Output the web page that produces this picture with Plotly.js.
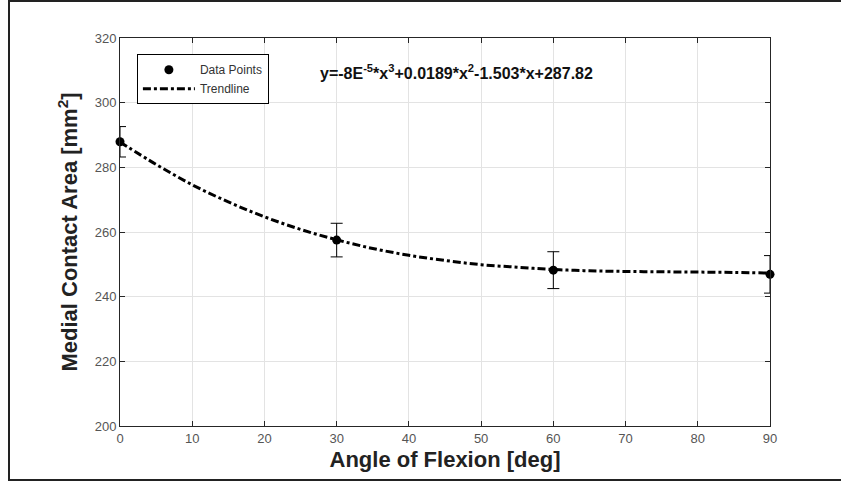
<!DOCTYPE html>
<html>
<head>
<meta charset="utf-8">
<script src="https://cdn.plot.ly/plotly-3.0.1.min.js"></script>
<style>
  html, body { margin: 0; padding: 0; background: #fff; }
  #wrap { position: relative; width: 841px; height: 482px; overflow: hidden; }
  #chart { position: absolute; left: 0; top: 0; width: 841px; height: 482px; }
  #frame { position: absolute; left: 8px; top: 0px; width: 840px; height: 481px;
           border-left: 2px solid #222; border-top: 2px solid #222; border-bottom: 2px solid #222;
           pointer-events: none; box-sizing: border-box; }
</style>
</head>
<body>
<div id="wrap">
  <div id="chart"></div>
  <div id="frame"></div>
</div>
<script>
// Measured data points (angle of flexion, medial contact area) with error bars
const angles = [0, 30, 60, 90];
const areas = [287.9, 257.5, 248.2, 246.9];
const errors = [4.7, 5.2, 5.7, 5.8];

// Trendline values
const trendX = [0, 5, 10, 15, 20, 25, 30, 35, 40, 45, 50, 55, 60, 65, 70, 75, 80, 85, 90];
const trendY = [287.8, 280.9, 274.6, 269.3, 264.7, 260.8, 257.6, 254.9, 252.8, 251.2, 249.9, 249.1, 248.4, 248.0, 247.8, 247.7, 247.6, 247.5, 247.3];

const xTicks = [0, 10, 20, 30, 40, 50, 60, 70, 80, 90];
const yTicks = [200, 220, 240, 260, 280, 300, 320];

const FONT = 'Liberation Sans, Arial, sans-serif';

const traces = [
  {
    x: angles, y: areas, name: 'Data Points', type: 'scatter', mode: 'markers',
    cliponaxis: false,
    marker: { color: '#000', size: 9, symbol: 'circle' },
    error_y: { type: 'data', array: errors, visible: true, color: '#000', thickness: 1, width: 6 }
  },
  {
    x: trendX, y: trendY, name: 'Trendline', type: 'scatter', mode: 'lines',
    line: { color: '#000', width: 3, dash: '8px,3px,3px,3px', shape: 'spline' }
  }
];

const axisCommon = {
  showline: true, linecolor: '#262626', linewidth: 1, mirror: 'ticks',
  ticks: 'inside', ticklen: 5, tickcolor: '#262626', tickwidth: 1,
  showgrid: true, gridcolor: '#e3e3e3', gridwidth: 1, zeroline: false,
  tickfont: { family: FONT, size: 13, color: '#555' }
};

const layout = {
  width: 841, height: 482,
  margin: { l: 120, r: 71, t: 38, b: 56 },
  paper_bgcolor: '#fff', plot_bgcolor: '#fff',
  showlegend: true,
  legend: {
    x: 0.026, y: 0.958, xanchor: 'left', yanchor: 'top',
    bordercolor: '#000', borderwidth: 1, bgcolor: '#fff',
    font: { family: FONT, size: 12, color: '#333' },
    tracegroupgap: 0, itemwidth: 52
  },
  xaxis: Object.assign({}, axisCommon, {
    range: [0, 90], tickvals: xTicks, ticktext: xTicks.map(String),
    title: { text: '<b>Angle of Flexion [deg]</b>', standoff: 7,
             font: { family: FONT, size: 22, color: '#222' } }
  }),
  yaxis: Object.assign({}, axisCommon, {
    range: [200, 320], tickvals: yTicks, ticktext: yTicks.map(String),
    title: { text: '<b>Medial Contact Area [mm<sup>2</sup>]</b>', standoff: 10,
             font: { family: FONT, size: 22, color: '#222' } }
  }),
  annotations: [{
    xref: 'paper', yref: 'paper', x: 0.305, y: 0.912, xanchor: 'left', yanchor: 'middle',
    showarrow: false,
    text: '<b>y=-8E<sup>-5</sup>*x<sup>3</sup>+0.0189*x<sup>2</sup>-1.503*x+287.82</b>',
    font: { family: FONT, size: 16, color: '#111' }
  }]
};

Plotly.newPlot('chart', traces, layout, { displayModeBar: false, staticPlot: true });
</script>
</body>
</html>
